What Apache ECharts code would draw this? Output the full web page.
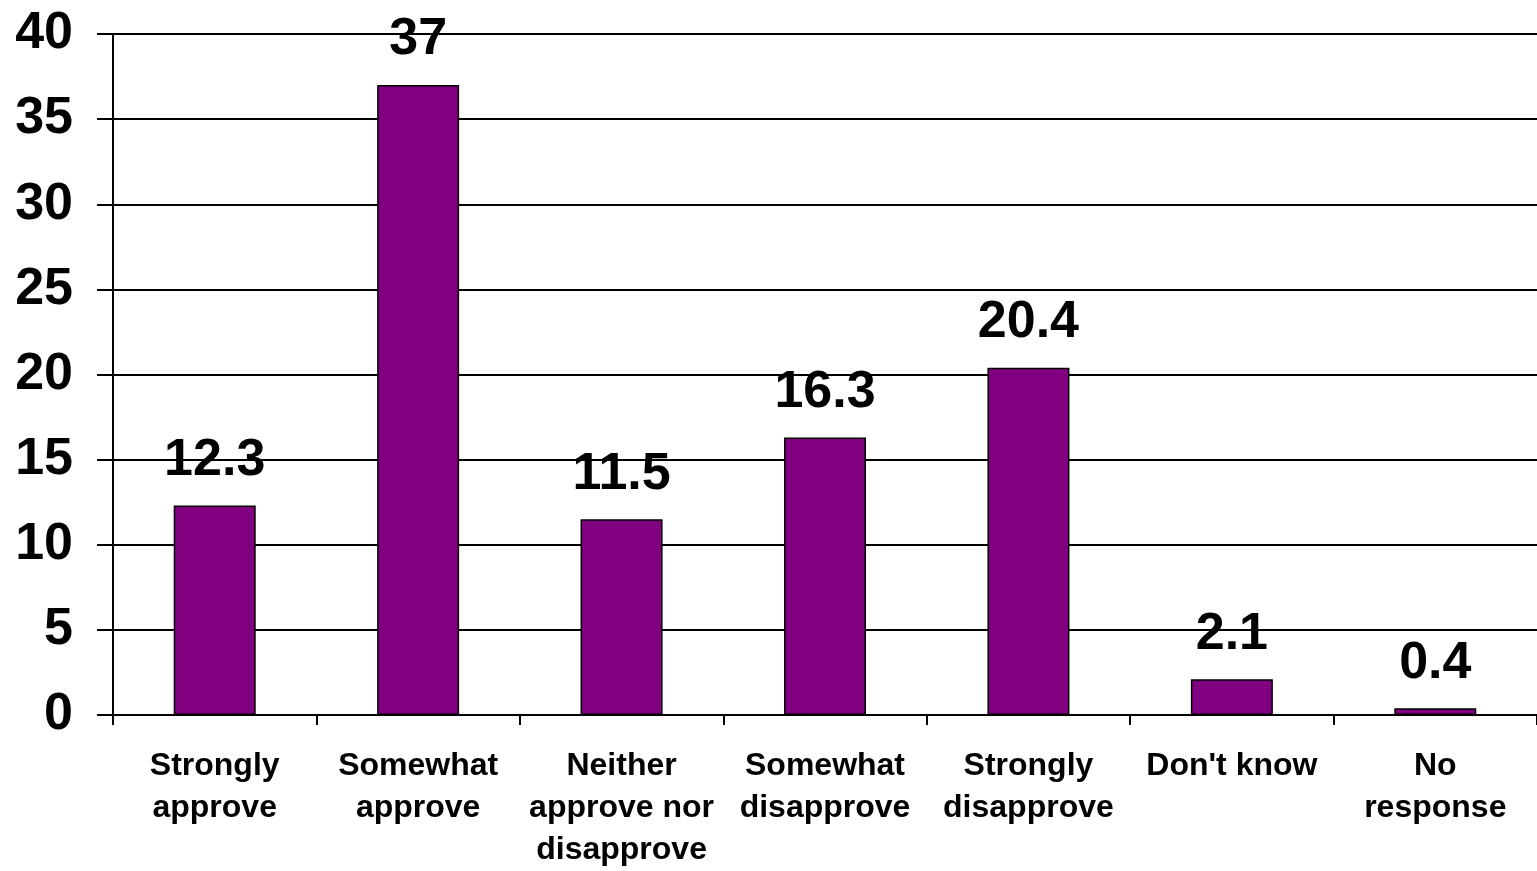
<!DOCTYPE html>
<html>
<head>
<meta charset="utf-8">
<script src="https://cdn.jsdelivr.net/npm/echarts@6/dist/echarts.min.js"></script>
<style>
html,body{margin:0;padding:0;background:#fff;overflow:hidden;}
#chart{width:1537px;height:871px;}
</style>
</head>
<body>
<div id="chart"></div>
<script>
const categories = ["Strongly\napprove", "Somewhat\napprove", "Neither\napprove nor\ndisapprove", "Somewhat\ndisapprove", "Strongly\ndisapprove", "Don't know", "No\nresponse"];
const values = [12.3, 37, 11.5, 16.3, 20.4, 2.1, 0.4];
const yTicks = [0, 5, 10, 15, 20, 25, 30, 35, 40];

const chart = echarts.init(document.getElementById('chart'));
const font = '"Liberation Sans", Arial, sans-serif';
chart.setOption({
  animation: false,
  backgroundColor: '#fff',
  grid: { left: 113, top: 34, width: 1430, height: 688, containLabel: false },
  xAxis: {
    type: 'category',
    data: categories,
    axisLine: { lineStyle: { color: '#000', width: 2 } },
    axisTick: { show: true, length: 10, lineStyle: { color: '#000', width: 2 } },
    axisLabel: { color: '#000', fontFamily: font, fontWeight: 'bold', fontSize: 32, lineHeight: 42, margin: 30, interval: 0 }
  },
  yAxis: {
    type: 'value',
    min: yTicks[0],
    max: yTicks[yTicks.length - 1],
    interval: 5,
    axisLine: { show: true, lineStyle: { color: '#000', width: 2 } },
    axisTick: { show: true, length: 16, lineStyle: { color: '#000', width: 2 } },
    splitLine: { show: true, lineStyle: { color: '#000', width: 2 } },
    axisLabel: { color: '#000', fontFamily: font, fontWeight: 'bold', fontSize: 52, margin: 40 }
  },
  series: [{
    type: 'bar',
    data: values,
    barWidth: 82,
    itemStyle: { color: '#800080', borderColor: '#000', borderWidth: 1.5 },
    label: { show: true, position: 'top', distance: 19, color: '#000', fontFamily: font, fontWeight: 'bold', fontSize: 52 }
  }]
});
</script>
</body>
</html>
